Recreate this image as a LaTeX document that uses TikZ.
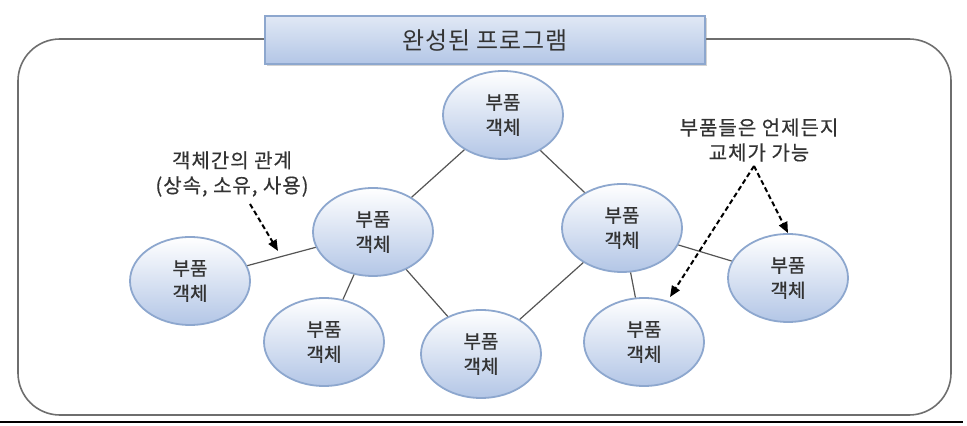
\documentclass[tikz,border=0pt]{standalone}
\usepackage{fontspec}
\setmainfont{Noto Sans CJK KR}
\usetikzlibrary{shapes.geometric,arrows.meta,shadows}
\definecolor{partline}{HTML}{8DA7CE}
\definecolor{partfill}{HTML}{B3C6E6}
\definecolor{linkgray}{HTML}{555555}
\definecolor{framegray}{HTML}{6E6E6E}
\definecolor{txtgray}{HTML}{333333}

\begin{document}
\begin{tikzpicture}[x=0.5pt,y=-0.5pt,
	part/.style={ellipse, draw=partline, line width=0.9pt, top color=white, bottom color=partfill,
		minimum width=60pt, minimum height=44pt, inner sep=0pt, align=center,
		font=\fontsize{9.5}{12.5}\selectfont\addfontfeature{FakeBold=0.6}, text=txtgray},
	link/.style={draw=linkgray, line width=0.6pt},
	hint/.style={black, line width=1pt, dash pattern=on 2.5pt off 1.5pt,
		-{Triangle[length=5.5pt,width=4.5pt]}},
	note/.style={align=center, font=\fontsize{10}{12.5}\selectfont\addfontfeature{LetterSpace=5,FakeBold=0.4}, text=txtgray}]
	\useasboundingbox (0,0) rectangle (967,426);
	% frame and title
	\draw [framegray, line width=0.8pt, rounded corners=21pt] (18,39) rectangle (951,415);
	\draw [black, line width=0.8pt] (0,422) -- (963,422);
	\node (title) [draw=partline, line width=0.7pt, top color=partfill!40, middle color=white, bottom color=partfill,
		drop shadow={shadow xshift=1pt, shadow yshift=-1pt, opacity=0.35},
		minimum width=220pt, minimum height=24pt, font=\fontsize{12}{14}\selectfont\addfontfeature{LetterSpace=3}, text=txtgray]
		at (485,40) {완성된 프로그램};
	% parts
	\node (ptop) [part] at (503,115) {부품\\객체};
	\node (pleft) [part] at (373,232) {부품\\객체};
	\node (pright) [part] at (622,228) {부품\\객체};
	\node (pfarleft) [part] at (190,281) {부품\\객체};
	\node (pfarright) [part] at (788,278) {부품\\객체};
	\node (pbotleft) [part] at (324,342) {부품\\객체};
	\node (pbotmid) [part] at (481,354) {부품\\객체};
	\node (pbotright) [part] at (644,342) {부품\\객체};
	% links
	\draw [link] (ptop) -- (pleft);
	\draw [link] (ptop) -- (pright);
	\draw [link] (pleft) -- (pfarleft);
	\draw [link] (pleft) -- (pbotleft);
	\draw [link] (pleft) -- (pbotmid);
	\draw [link] (pright) -- (pbotmid);
	\draw [link] (pright) -- (pbotright);
	\draw [link] (pright) -- (pfarright);
	% notes
	\node (relnote) [note] at (232,174) {객체간의 관계\\(상속, 소유, 사용)};
	\node (swapnote) [note] at (759,140) {부품들은 언제든지\\교체가 가능};
	\coordinate (relfrom) at (250,204);
	\coordinate (relto) at (278,251);
	\coordinate (swapfrom) at (754,166);
	\coordinate (swapto) at (670,297);
	\draw [hint] (relfrom) -- (relto);
	\draw [hint] (swapfrom) -- (pfarright.north);
	\draw [hint] (swapfrom) -- (swapto);
\end{tikzpicture}
\end{document}
